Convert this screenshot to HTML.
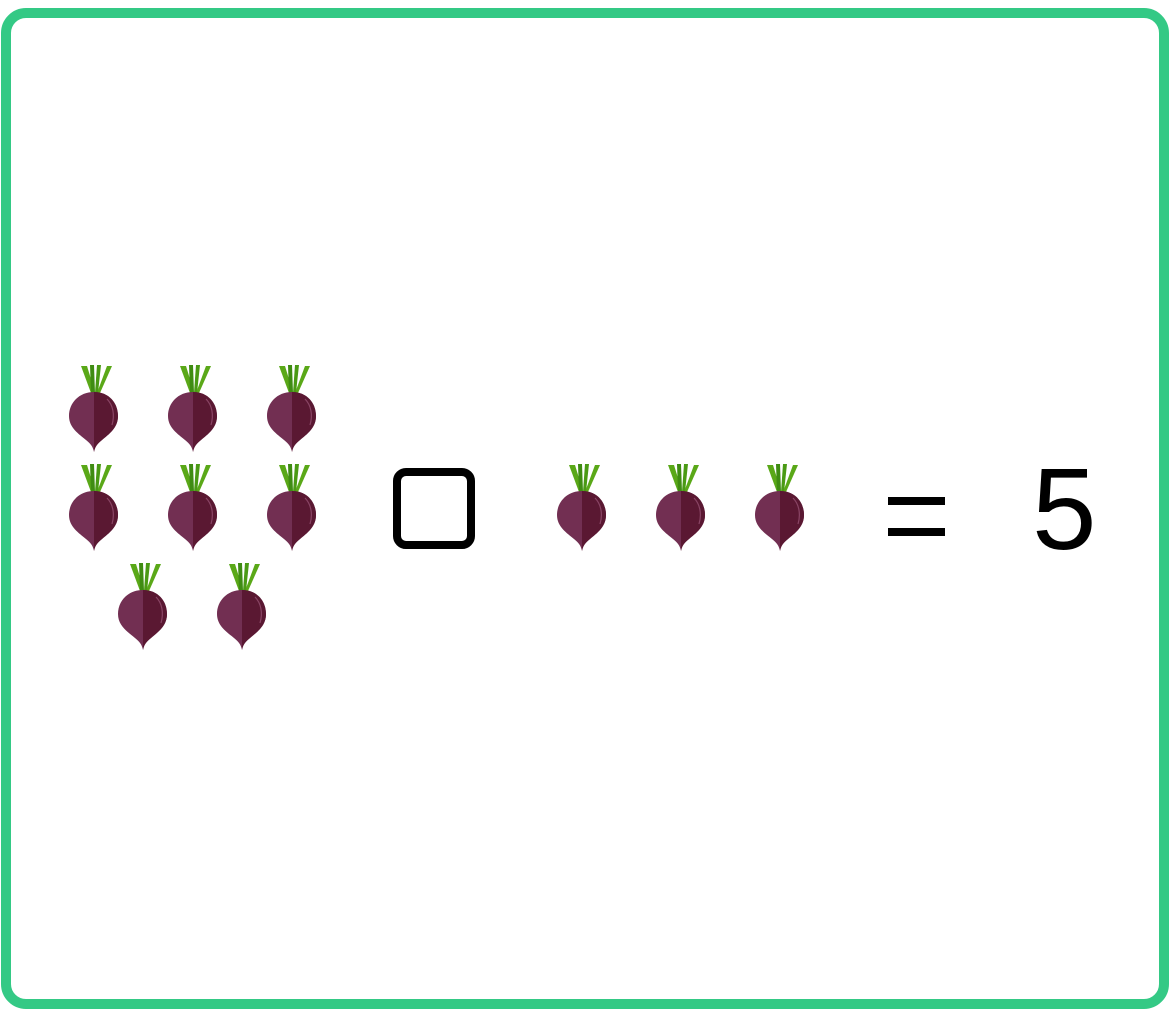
<!DOCTYPE html>
<html><head><meta charset="utf-8"><style>
html,body{margin:0;padding:0;background:#fff;}
svg{display:block;}
</style></head><body>
<svg width="1170" height="1025" viewBox="0 0 1170 1025">
<defs>
<g id="beet">
<path d="M22,30 L12,3 L18,3 L25,26 Z" fill="#5aa818"/>
<path d="M28,30 L38,3 L43,3 L31,30 Z" fill="#5aa818"/>
<path d="M22,30 L21,2 L25,2 L26,30 Z" fill="#3f8c12"/>
<path d="M26,30 L28,2 L32,2 L29,30 Z" fill="#4a9a14"/>
<path d="M25,29 C40,29 49,40 49,53 C49,65 40,71 33,77 C28,81 26,84 25,89 C24,84 22,81 17,77 C10,71 0,65 0,53 C0,40 10,29 25,29Z" fill="#722f52"/>
<path d="M25,29 C40,29 49,40 49,53 C49,65 40,71 33,77 C28,81 26,84 25,89 Z" fill="#5a1832"/>
<path d="M38,36 C44,42 46,52 43,62" stroke="#8a4565" stroke-width="1.2" fill="none"/>
</g>
</defs>
<rect x="6" y="13" width="1158" height="991" rx="20" fill="#fff" stroke="#34c985" stroke-width="10"/>
<g>
<use href="#beet" x="69" y="363"/>
<use href="#beet" x="168" y="363"/>
<use href="#beet" x="267" y="363"/>
<use href="#beet" x="69" y="462"/>
<use href="#beet" x="168" y="462"/>
<use href="#beet" x="267" y="462"/>
<use href="#beet" x="118" y="561"/>
<use href="#beet" x="217" y="561"/>
</g>
<rect x="397" y="472" width="74" height="73" rx="9" fill="none" stroke="#000" stroke-width="8"/>
<g>
<use href="#beet" x="557" y="462"/>
<use href="#beet" x="656" y="462"/>
<use href="#beet" x="755" y="462"/>
</g>
<g>
<rect x="888" y="497" width="57" height="8" fill="#000"/>
<rect x="888" y="528" width="57" height="8" fill="#000"/>
</g>
<text x="1032" y="549" font-family="Liberation Sans, sans-serif" font-size="116" fill="#000">5</text>
</svg>
</body></html>
